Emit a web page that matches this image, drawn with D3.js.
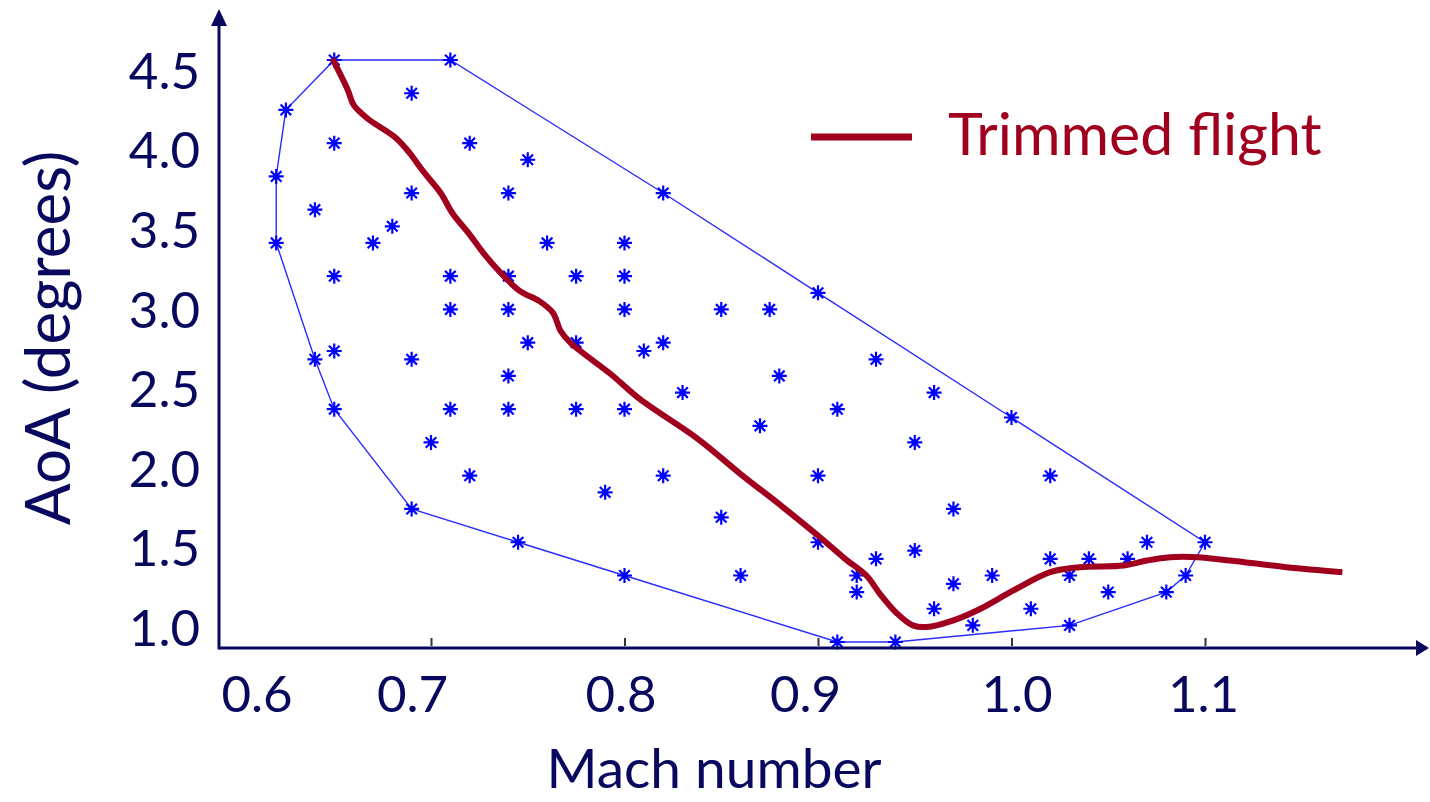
<!DOCTYPE html>
<html>
<head>
<meta charset="utf-8">
<script src="https://d3js.org/d3.v7.min.js"></script>
<style>
  body { margin: 0; background: #fff; }
  svg { display: block; }
  .tick text { font-family: Lato, "DejaVu Sans", sans-serif; fill: #08085e; }
</style>
</head>
<body>
<svg id="chart"></svg>
<script>

// --- data ---
// interior + hull sample points (Mach, AoA deg)
var ptMach = [0.65, 0.71, 0.69, 0.625, 0.65, 0.72, 0.75, 0.62, 0.69, 0.74,
  0.82, 0.64, 0.68, 0.62, 0.67, 0.76, 0.80, 0.65, 0.71, 0.74,
  0.775, 0.80, 0.90, 0.71, 0.74, 0.80, 0.85, 0.875, 0.75, 0.775,
  0.82, 0.81, 0.65, 0.64, 0.69, 0.93, 0.74, 0.88, 0.83, 0.96,
  0.65, 0.71, 0.74, 0.775, 0.80, 0.91, 1.00, 0.87, 0.70, 0.95,
  0.72, 0.82, 0.90, 1.02, 0.79, 0.69, 0.97, 0.85, 0.745, 0.90,
  1.07, 1.10, 0.95, 0.93, 1.02, 1.04, 1.06, 0.80, 0.86, 0.92,
  0.99, 1.03, 1.09, 0.97, 0.92, 1.05, 1.08, 0.96, 1.01, 0.98,
  1.03, 0.91, 0.94];
var ptAoA = [4.5, 4.5, 4.3, 4.2, 4.0, 4.0, 3.9, 3.8, 3.7, 3.7,
  3.7, 3.6, 3.5, 3.4, 3.4, 3.4, 3.4, 3.2, 3.2, 3.2,
  3.2, 3.2, 3.1, 3.0, 3.0, 3.0, 3.0, 3.0, 2.8, 2.8,
  2.8, 2.75, 2.75, 2.7, 2.7, 2.7, 2.6, 2.6, 2.5, 2.5,
  2.4, 2.4, 2.4, 2.4, 2.4, 2.4, 2.35, 2.3, 2.2, 2.2,
  2.0, 2.0, 2.0, 2.0, 1.9, 1.8, 1.8, 1.75, 1.6, 1.6,
  1.6, 1.6, 1.55, 1.5, 1.5, 1.5, 1.5, 1.4, 1.4, 1.4,
  1.4, 1.4, 1.4, 1.35, 1.3, 1.3, 1.3, 1.2, 1.2, 1.1,
  1.1, 1.0, 1.0];

// envelope (convex hull), clockwise from top left
var hullMach = [0.65, 0.71, 0.82, 0.90, 1.00, 1.10, 1.09, 1.08, 1.03, 0.94,
  0.91, 0.80, 0.745, 0.69, 0.65, 0.64, 0.62, 0.62, 0.625];
var hullAoA = [4.5, 4.5, 3.7, 3.1, 2.35, 1.6, 1.4, 1.3, 1.1, 1.0,
  1.0, 1.4, 1.6, 1.8, 2.4, 2.7, 3.4, 3.8, 4.2];

// trimmed flight curve
var trimMach = [0.649, 0.657, 0.660, 0.667, 0.682, 0.689, 0.696, 0.705, 0.711, 0.720,
  0.727, 0.736, 0.746, 0.756, 0.763, 0.767, 0.772, 0.793, 0.808, 0.838,
  0.860, 0.882, 0.901, 0.914, 0.925, 0.932, 0.941, 0.949, 0.956, 0.970,
  0.984, 1.001, 1.020, 1.035, 1.058, 1.070, 1.082, 1.096, 1.113, 1.142, 1.171];
var trimAoA = [4.51, 4.32, 4.23, 4.15, 4.03, 3.94, 3.83, 3.70, 3.58, 3.45,
  3.34, 3.22, 3.11, 3.05, 2.98, 2.87, 2.80, 2.61, 2.46, 2.22,
  2.01, 1.81, 1.63, 1.50, 1.40, 1.29, 1.17, 1.10, 1.09, 1.13,
  1.20, 1.31, 1.42, 1.45, 1.46, 1.49, 1.51, 1.51, 1.49, 1.45, 1.42];

var xTickValues = [0.6, 0.7, 0.8, 0.9, 1.0, 1.1];
var yTickValues = [1.0, 1.5, 2.0, 2.5, 3.0, 3.5, 4.0, 4.5];

// --- layout ---
var width = 1430, height = 802;
var axisX = 219, axisY = 648;
var navy = "#08085e", blue = "#0000ff", red = "#a0001e";

var svg = d3.select("#chart").attr("width", width).attr("height", height);

var x = d3.scaleLinear().domain([0.6, 1.2]).range([237.5, 1398.5]);
var y = d3.scaleLinear().domain([1.0, 4.5]).range([642, 60]);
// the printed AoA labels sit a bit tighter than the plotted data
var yLab = d3.scaleLinear().domain([1.0, 4.5]).range([629, 72]);

// envelope
var hullPts = hullMach.map(function (m, i) { return [m, hullAoA[i]]; });
svg.append("path")
  .attr("d", d3.line().x(function (d) { return x(d[0]); })
    .y(function (d) { return y(d[1]); }).curve(d3.curveLinearClosed)(hullPts))
  .attr("fill", "none")
  .attr("stroke", "#2b2bff")
  .attr("stroke-width", 1.4);

// star markers
var pts = ptMach.map(function (m, i) { return [m, ptAoA[i]]; });
var star = svg.append("g").selectAll("g")
  .data(pts).enter().append("g")
  .attr("transform", function (d) { return "translate(" + x(d[0]) + "," + y(d[1]) + ")"; });
star.append("path")
  .attr("d", "M-7.5,0H7.5M0,-7.5V7.5M-5.3,-5.3L5.3,5.3M-5.3,5.3L5.3,-5.3")
  .attr("stroke", blue)
  .attr("stroke-width", 2.2);
star.append("circle").attr("r", 3).attr("fill", blue);

// trimmed flight
var trimPts = trimMach.map(function (m, i) { return [m, trimAoA[i]]; });
svg.append("path")
  .attr("d", d3.line().x(function (d) { return x(d[0]); })
    .y(function (d) { return y(d[1]); }).curve(d3.curveCatmullRom)(trimPts))
  .attr("fill", "none")
  .attr("stroke", red)
  .attr("stroke-width", 6);

// x ticks + labels
var xNudge = [19, -19, -4, -13, 5, -2];
var gx = svg.append("g")
  .attr("transform", "translate(0," + (axisY - 2) + ")")
  .call(d3.axisBottom(x).tickValues(xTickValues).tickSize(-8).tickPadding(30)
    .tickFormat(d3.format(".1f")));
gx.select(".domain").remove();
gx.selectAll(".tick line")
  .attr("stroke", "#333").attr("stroke-width", 2)
  .attr("opacity", function (d) { return d < 0.65 ? 0 : 1; });
gx.selectAll(".tick text")
  .attr("font-size", 51)
  .attr("dx", function (d, i) { return xNudge[i]; });

// y labels
var gy = svg.append("g")
  .attr("transform", "translate(" + axisX + ",0)")
  .call(d3.axisLeft(yLab).tickValues(yTickValues).tickSize(0).tickPadding(19)
    .tickFormat(d3.format(".1f")));
gy.select(".domain").remove();
gy.selectAll(".tick text").attr("font-size", 51);

// axis lines with arrows
svg.append("line")
  .attr("x1", axisX).attr("y1", axisY).attr("x2", 1418).attr("y2", axisY)
  .attr("stroke", navy).attr("stroke-width", 3);
svg.append("path").attr("d", "M1416,640L1429,648L1416,656Z").attr("fill", navy);
svg.append("line")
  .attr("x1", axisX).attr("y1", axisY + 1.5).attr("x2", axisX).attr("y2", 24)
  .attr("stroke", navy).attr("stroke-width", 3);
svg.append("path").attr("d", "M211,26L219,9L227,26Z").attr("fill", navy);

// axis titles
svg.append("text")
  .attr("x", 714).attr("y", 788)
  .attr("text-anchor", "middle")
  .attr("font-family", "Lato, sans-serif")
  .attr("font-size", 55)
  .attr("fill", navy)
  .text("Mach number");

svg.append("text")
  .attr("transform", "translate(70,338)rotate(-90)")
  .attr("text-anchor", "middle")
  .attr("font-family", "Lato, sans-serif")
  .attr("font-size", 62)
  .attr("fill", navy)
  .text("AoA (degrees)");

// legend
svg.append("line")
  .attr("x1", 811).attr("y1", 137).attr("x2", 912).attr("y2", 137)
  .attr("stroke", red).attr("stroke-width", 7);
svg.append("text")
  .attr("x", 948).attr("y", 155)
  .attr("font-family", "Lato, sans-serif")
  .attr("font-size", 59)
  .attr("fill", red)
  .text("Trimmed flight");

</script>
</body>
</html>
